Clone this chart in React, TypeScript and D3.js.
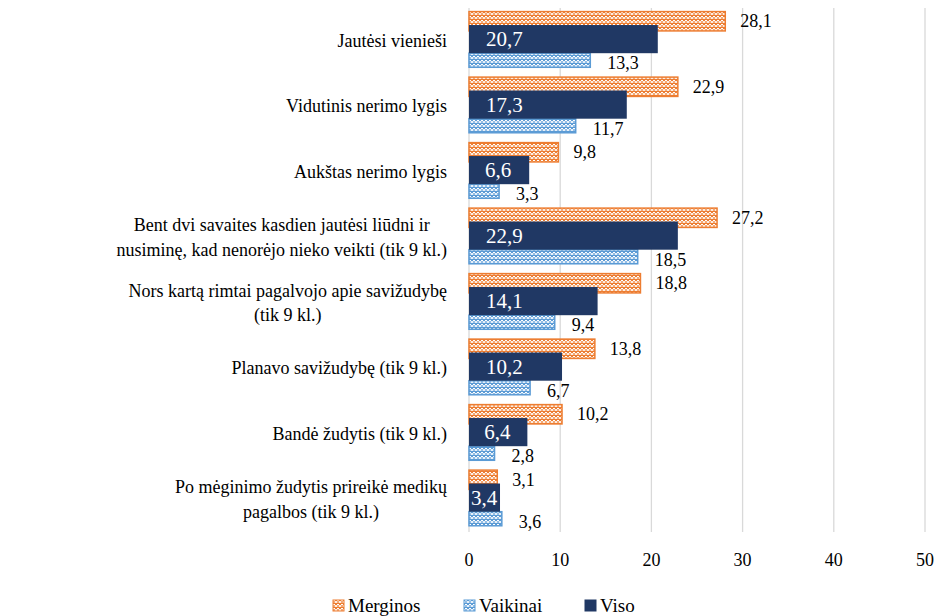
import React, { useLayoutEffect, useRef, useState } from 'react';
import * as d3 from 'd3';

const categories = [
  ['Jautėsi vienieši'],
  ['Vidutinis nerimo lygis '],
  ['Aukštas nerimo lygis'],
  ['Bent dvi savaites kasdien jautėsi liūdni ir', 'nusiminę, kad nenorėjo nieko veikti (tik 9 kl.)'],
  ['Nors kartą rimtai pagalvojo apie savižudybę', '(tik 9 kl.)'],
  ['Planavo savižudybę (tik 9 kl.)'],
  ['Bandė žudytis (tik 9 kl.)'],
  ['Po mėginimo žudytis prireikė medikų', 'pagalbos (tik 9 kl.)'],
];
const merginos = [28.1, 22.9, 9.8, 27.2, 18.8, 13.8, 10.2, 3.1];
const viso = [20.7, 17.3, 6.6, 22.9, 14.1, 10.2, 6.4, 3.4];
const vaikinai = [13.3, 11.7, 3.3, 18.5, 9.4, 6.7, 2.8, 3.6];
const xTicks = [0, 10, 20, 30, 40, 50];

const W = 943;
const H = 616;
const FAM = 'Liberation Serif';
const ORANGE = '#ED7D31';
const BLUE = '#5B9BD5';
const NAVY = '#203864';

const fmt = (v: number) => v.toFixed(1).replace('.', ',');

// text with the serif face set directly on it
const T = (p: any) => <text fontFamily={FAM} style={{ fontFamily: `"${FAM}"` }} {...p} />;

export default function App() {
  const svgRef = useRef<SVGSVGElement>(null);
  const [widths, setWidths] = useState<number[]>(categories.map(l => d3.max(l, s => s.length * 8) as number));

  const x = d3.scaleLinear().domain([0, 50]).range([469, 925]);
  const y = d3.scaleBand<number>().domain(d3.range(categories.length)).range([8, 532]);
  const bw = y.bandwidth();
  const labelRight = 447;
  const labelSize = 18;

  useLayoutEffect(() => {
    if (!svgRef.current) return;
    const w = categories.map((_, i) => {
      const spans = svgRef.current!.querySelectorAll(`.cat-${i} tspan`);
      let m = 0;
      spans.forEach(s => { m = Math.max(m, (s as SVGTextContentElement).getComputedTextLength()); });
      return m;
    });
    setWidths(w);
  }, []);

  const Pattern = ({ id, color }: { id: string; color: string }) => (
    <pattern id={id} width={4} height={4} patternUnits="userSpaceOnUse">
      <rect width={4} height={4} fill={color} />
      <rect x={1} y={0} width={2} height={1} fill="#fff" />
      <rect x={0} y={1} width={4} height={2} fill="#fff" opacity={0.85} />
      <rect x={1} y={1} width={2} height={2} fill={color} opacity={0.6} />
    </pattern>
  );

  return (
    <div style={{ position: 'absolute', left: 0, top: 0, width: W, height: H, background: '#fff' }}>
      <svg ref={svgRef} width={W} height={H}>
        <defs>
          <Pattern id="pOrange" color={ORANGE} />
          <Pattern id="pBlue" color={BLUE} />
        </defs>

        {/* gridlines */}
        {xTicks.map(t => (
          <line key={t} x1={x(t)} x2={x(t)} y1={8} y2={532} stroke="#d9d9d9" strokeWidth={1.3} />
        ))}

        {categories.map((lines, i) => {
          const y0 = y(i) as number;
          const cy = y0 + bw / 2;
          const cx = labelRight - widths[i] / 2;
          const oy = y0 + bw * 0.055, oh = bw * 0.295;
          const ny = y0 + bw * 0.26, nh = bw * 0.43;
          const by = y0 + bw * 0.69, bh = bw * 0.215;
          const navyW = x(viso[i]) - x(0);
          const navyX = Math.max(x(0) + 2, Math.min(x(0) + 17, x(0) + (navyW - 28) / 2));
          return (
            <g key={i}>
              <T className={`cat-${i}`} fontSize={labelSize} fill="#000" textAnchor="middle">
                {lines.map((l, k) => (
                  <tspan key={k} x={cx} y={cy + (k - (lines.length - 1) / 2) * 24.5 + 6}>{l.trimEnd()}</tspan>
                ))}
              </T>
              <rect x={x(0)} y={oy} width={x(merginos[i]) - x(0)} height={oh} fill="url(#pOrange)" stroke={ORANGE} strokeWidth={1.5} />
              <rect x={x(0)} y={by} width={x(vaikinai[i]) - x(0)} height={bh} fill="url(#pBlue)" stroke={BLUE} strokeWidth={1.5} />
              <rect x={x(0)} y={ny} width={navyW} height={nh} fill={NAVY} />
              <T x={x(merginos[i]) + 15} y={oy + oh / 2 + 6} fontSize={18}>{fmt(merginos[i])}</T>
              <T x={x(vaikinai[i]) + 17} y={by + bh / 2 + 9} fontSize={18}>{fmt(vaikinai[i])}</T>
              <T x={navyX} y={ny + nh / 2 + 7} fontSize={21} fill="#fff">{fmt(viso[i])}</T>
            </g>
          );
        })}

        {/* x tick labels */}
        {xTicks.map(t => (
          <T key={t} x={x(t)} y={566} textAnchor="middle" fontSize={18}>{t}</T>
        ))}

        {/* legend */}
        {[
          { name: 'Merginos', fill: 'url(#pOrange)', stroke: ORANGE, x: 333 },
          { name: 'Vaikinai', fill: 'url(#pBlue)', stroke: BLUE, x: 464 },
          { name: 'Viso', fill: NAVY, stroke: NAVY, x: 585 },
        ].map(d => (
          <g key={d.name}>
            <rect x={d.x} y={600} width={11} height={11} fill={d.fill} stroke={d.stroke} strokeWidth={1} />
            <T x={d.x + 15} y={612} fontSize={19}>{d.name}</T>
          </g>
        ))}
      </svg>
    </div>
  );
}
